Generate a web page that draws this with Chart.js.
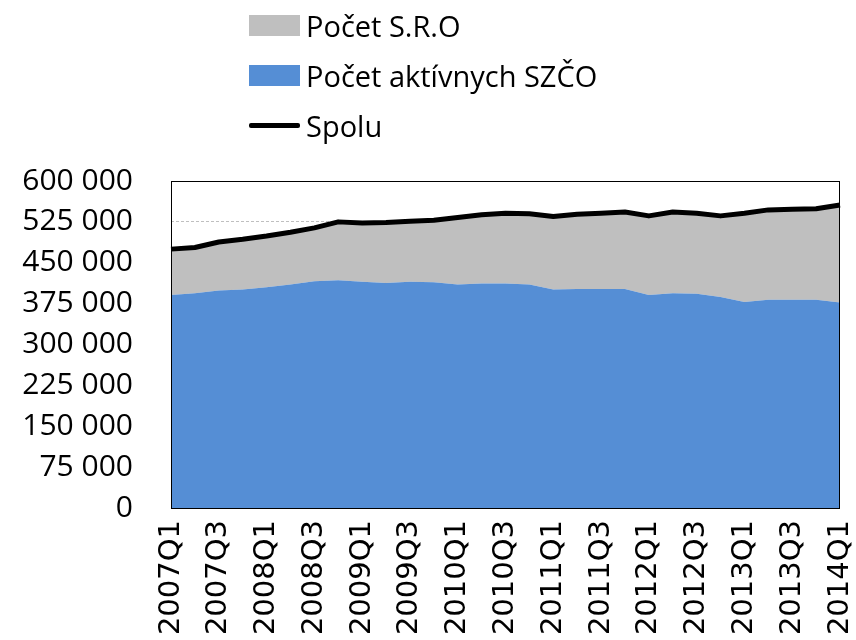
<!DOCTYPE html>
<html lang="sk">
<head>
  <meta charset="UTF-8" />
  <title>Počet SZČO a S.R.O</title>
  <script src="https://cdn.jsdelivr.net/npm/chart.js"></script>
  <style>
    html, body { margin: 0; padding: 0; background: #fff; }
    #wrap { position: relative; width: 856px; height: 640px; overflow: hidden; }
    #legend { position: absolute; left: 249px; top: 0; font-family: "Open Sans", sans-serif; font-size: 29px; color: #000; }
    .item { display: flex; align-items: center; height: 50px; }
    .swatch { width: 51px; height: 21px; margin-right: 6px; }
    .line { width: 51px; height: 5px; margin-right: 6px; border-radius: 2px; }
  </style>
</head>
<body>
  <div id="wrap">
    <canvas id="chart" width="856" height="640"></canvas>
    <div id="legend"></div>
  </div>

  <script>
    const quarters = [
      "2007Q1", "2007Q2", "2007Q3", "2007Q4", "2008Q1", "2008Q2", "2008Q3", "2008Q4",
      "2009Q1", "2009Q2", "2009Q3", "2009Q4", "2010Q1", "2010Q2", "2010Q3", "2010Q4",
      "2011Q1", "2011Q2", "2011Q3", "2011Q4", "2012Q1", "2012Q2", "2012Q3", "2012Q4",
      "2013Q1", "2013Q2", "2013Q3", "2013Q4", "2014Q1"
    ];
    // aktívne SZČO
    const szco = [
      391000, 394000, 399000, 401000, 405000, 410000, 416000, 418000,
      415000, 413000, 415000, 414000, 410000, 412000, 412000, 410000,
      401000, 402000, 402000, 402000, 391000, 394000, 393000, 387000,
      378000, 382000, 382000, 382000, 377000
    ];
    // S.R.O
    const sro = [
      84000, 84000, 89000, 92000, 94000, 96000, 98000, 107000,
      108000, 111000, 111000, 114000, 123000, 126000, 129000, 130000,
      134000, 137000, 139000, 141000, 145000, 149000, 148000, 149000,
      163000, 165000, 166000, 167000, 179000
    ];
    const spolu = szco.map((v, i) => v + sro[i]);
    const yTicks = [0, 75000, 150000, 225000, 300000, 375000, 450000, 525000, 600000];

    const BLUE = "#558ed5";
    const GRAY = "#bfbfbf";

    function fmt(v) {
      return String(v).replace(/\B(?=(\d{3})+(?!\d))/g, " ");
    }

    // ramik okolo plochy grafu
    const frame = {
      id: "frame",
      afterDraw(chart) {
        const a = chart.chartArea, c = chart.ctx;
        c.save();
        c.strokeStyle = "#000";
        c.lineWidth = 1;
        c.strokeRect(a.left + 0.5, a.top + 0.5, a.right - a.left - 1, a.bottom - a.top);
        c.restore();
      }
    };

    const chart = new Chart(document.getElementById("chart"), {
      type: "line",
      data: {
        labels: quarters,
        datasets: [
          { label: "Počet aktívnych SZČO", data: szco, backgroundColor: BLUE, borderWidth: 0,
            fill: "origin", pointRadius: 0, order: 1, stack: "a", tension: 0 },
          { label: "Počet S.R.O", data: sro, backgroundColor: GRAY, borderWidth: 0,
            fill: "-1", pointRadius: 0, order: 1, stack: "a", tension: 0 },
          { label: "Spolu", data: spolu, borderColor: "#000", borderWidth: 5,
            fill: false, pointRadius: 0, order: 0, stack: "b", tension: 0, borderJoinStyle: "round" }
        ]
      },
      options: {
        responsive: false,
        animation: false,
        layout: { padding: { top: 181, right: 16, left: 0, bottom: 0 } },
        plugins: { legend: { display: false }, tooltip: { enabled: false } },
        scales: {
          x: {
            offset: false,
            grid: { display: false, drawTicks: false },
            border: { display: false },
            afterFit(s) { s.height = 132; s.paddingLeft = 0; s.paddingRight = 0; },
            ticks: {
              autoSkip: false, maxRotation: 90, minRotation: 90, padding: 12,
              color: "#000", font: { family: "DejaVu Sans", size: 29 },
              callback(v, i) { return i % 2 === 0 ? quarters[i] : ""; }
            }
          },
          y: {
            stacked: true, min: 0, max: 600000,
            afterBuildTicks(s) { s.ticks = yTicks.map(v => ({ value: v })); },
            afterFit(s) { s.width = 171; s.paddingTop = 0; s.paddingBottom = 0; },
            grid: { color: GRAY, drawTicks: false, lineWidth: 1 },
            border: { display: false, dash: [3, 2] },
            ticks: {
              padding: 38, color: "#000", font: { family: "Open Sans", size: 30 },
              callback: v => fmt(v)
            }
          }
        }
      },
      plugins: [frame]
    });

    // legenda v poradi ako v originali
    const legend = document.getElementById("legend");
    [1, 0, 2].forEach(i => {
      const ds = chart.data.datasets[i];
      const row = document.createElement("div");
      row.className = "item";
      const mark = document.createElement("span");
      if (ds.fill === false) {
        mark.className = "line";
        mark.style.background = ds.borderColor;
      } else {
        mark.className = "swatch";
        mark.style.background = ds.backgroundColor;
      }
      row.appendChild(mark);
      row.appendChild(document.createTextNode(ds.label));
      legend.appendChild(row);
    });
  </script>
</body>
</html>
